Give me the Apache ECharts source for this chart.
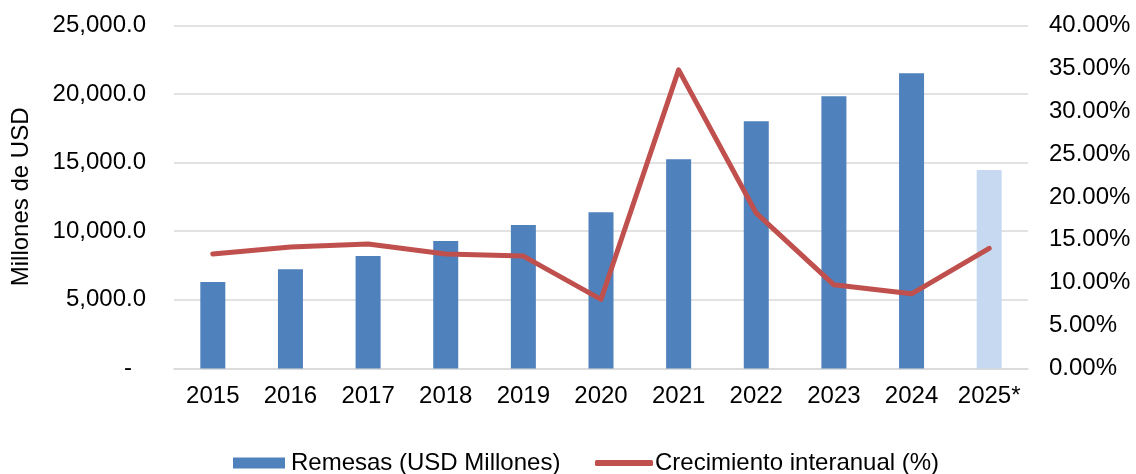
<!DOCTYPE html>
<html>
<head>
<meta charset="utf-8">
<script src="https://cdn.jsdelivr.net/npm/echarts@6/dist/echarts.min.js"></script>
<style>
html,body{margin:0;padding:0;background:#fff;}
#c{width:1136px;height:474px;}
</style>
</head>
<body>
<div id="c"></div>
<script>
const categories = ['2015','2016','2017','2018','2019','2020','2021','2022','2023','2024','2025*'];
const remesas = [6300, 7230, 8200, 9290, 10450, 11380, 15240, 18010, 19830, 21500, 14460];
const crecimiento = [13.35, 14.15, 14.5, 13.35, 13.1, 8.05, 34.8, 18.1, 9.75, 8.7, 14.0];
const leftTicks = [0, 5000, 10000, 15000, 20000, 25000];
const rightTicks = [0, 5, 10, 15, 20, 25, 30, 35, 40];

const font = 'Liberation Sans, Arial, sans-serif';
const barColor = '#4F81BD';
const barColorLast = '#C6D9F1';
const lineColor = '#C0504D';

const chart = echarts.init(document.getElementById('c'), null, {renderer: 'canvas'});
chart.setOption({
  animation: false,
  textStyle: {fontFamily: font},
  grid: {left: 174, right: 108, top: 25.3, bottom: 105.5, containLabel: false, outerBoundsMode: 'none'},
  legend: [
    {
      data: [{name: 'Remesas (USD Millones)', icon: 'rect'}],
      left: 233, top: 451, padding: 0,
      itemWidth: 52, itemHeight: 11, itemGap: 7,
      textStyle: {fontSize: 24, color: '#000', fontFamily: font, padding: [0,0,0,1]}
    },
    {
      data: [{name: 'Crecimiento interanual (%)', icon: 'roundRect'}],
      left: 595, top: 451, padding: 0,
      itemWidth: 58, itemHeight: 6,
      textStyle: {fontSize: 24, color: '#000', fontFamily: font, padding: [0,0,0,-3]}
    }
  ],
  xAxis: {
    type: 'category',
    data: categories,
    axisTick: {show: false},
    axisLine: {show: true, lineStyle: {color: '#d9d9d9', width: 1.5}},
    axisLabel: {fontSize: 24, color: '#000', margin: 16, fontFamily: font, interval: 0}
  },
  yAxis: [
    {
      type: 'value',
      min: 0, max: 25000, interval: 5000,
      name: 'Millones de USD',
      nameLocation: 'middle',
      nameGap: 141,
      nameRotate: 90,
      nameTextStyle: {fontSize: 24, color: '#000', fontFamily: font},
      axisLine: {show: false},
      axisTick: {show: false},
      splitLine: {show: true, lineStyle: {color: '#d9d9d9', width: 1.5}},
      axisLabel: {
        fontSize: 24, color: '#000', margin: 28, fontFamily: font,
        formatter: function (v) {
          if (v === 0) return '{d|-}';
          return v.toLocaleString('en-US', {minimumFractionDigits: 1, maximumFractionDigits: 1});
        },
        rich: {d: {fontSize: 24, color: '#000', padding: [0, 14, 0, 0], fontFamily: font}}
      }
    },
    {
      type: 'value',
      min: 0, max: 40, interval: 5,
      position: 'right',
      axisLine: {show: false},
      axisTick: {show: false},
      splitLine: {show: false},
      axisLabel: {
        fontSize: 24, color: '#000', margin: 21, fontFamily: font,
        formatter: function (v) { return v.toFixed(2) + '%'; }
      }
    }
  ],
  series: [
    {
      name: 'Remesas (USD Millones)',
      type: 'bar',
      yAxisIndex: 0,
      barWidth: 25,
      itemStyle: {color: barColor},
      data: remesas.map(function (v, i) {
        return i === remesas.length - 1 ? {value: v, itemStyle: {color: barColorLast}} : v;
      })
    },
    {
      name: 'Crecimiento interanual (%)',
      type: 'line',
      yAxisIndex: 1,
      data: crecimiento,
      symbol: 'none',
      lineStyle: {color: lineColor, width: 5, cap: 'round', join: 'round'},
      itemStyle: {color: lineColor}
    }
  ]
});
</script>
</body>
</html>
